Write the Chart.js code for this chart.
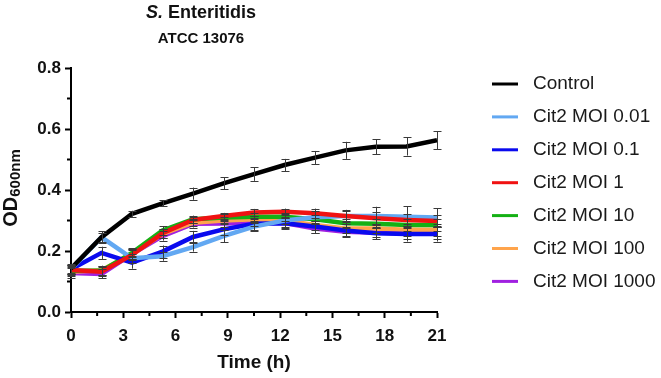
<!DOCTYPE html>
<html>
<head>
<meta charset="utf-8">
<script src="https://cdn.jsdelivr.net/npm/chart.js@4.4.1/dist/chart.umd.min.js"></script>
<style>
    html, body { margin: 0; padding: 0; background: #fff; }
    #wrap { position: relative; width: 661px; height: 378px; }
    #chart { position: absolute; left: 0; top: 0; }
    .title { position: absolute; left: 101px; width: 200px; text-align: center; font-family: 'Liberation Sans', Arial, sans-serif; font-weight: bold; color: #111; line-height: 1; }
    #t1 { top: 3px; font-size: 18px; }
    #t2 { top: 30px; font-size: 15px; }
</style>
</head>
<body>
<div id="wrap">
    <canvas id="chart" width="661" height="378"></canvas>
    <div class="title" id="t1"><i>S.</i> Enteritidis</div>
    <div class="title" id="t2">ATCC 13076</div>
</div>
<script>
const times = [0, 1.75, 3.5, 5.25, 7, 8.75, 10.5, 12.25, 14, 15.75, 17.5, 19.25, 21];

const seriesLabels = ['Control', 'Cit2 MOI 0.01', 'Cit2 MOI 0.1', 'Cit2 MOI 1', 'Cit2 MOI 10', 'Cit2 MOI 100', 'Cit2 MOI 1000'];
const seriesColors = ['#000000', '#62a8f2', '#0a0aee', '#f01212', '#14b014', '#ffa44c', '#a020e0'];

const control = [0.143, 0.245, 0.322, 0.356, 0.388, 0.422, 0.452, 0.482, 0.506, 0.530, 0.542, 0.543, 0.563];
const moi001 = [0.140, 0.245, 0.176, 0.183, 0.213, 0.249, 0.280, 0.300, 0.311, 0.315, 0.315, 0.312, 0.310];
const moi01 = [0.140, 0.194, 0.162, 0.198, 0.246, 0.271, 0.289, 0.291, 0.280, 0.267, 0.258, 0.256, 0.256];
const moi1 = [0.138, 0.132, 0.187, 0.258, 0.302, 0.315, 0.326, 0.329, 0.324, 0.315, 0.307, 0.302, 0.298];
const moi10 = [0.135, 0.135, 0.194, 0.267, 0.304, 0.310, 0.312, 0.312, 0.304, 0.291, 0.289, 0.285, 0.285];
const moi100 = [0.132, 0.137, 0.190, 0.256, 0.293, 0.300, 0.304, 0.300, 0.285, 0.274, 0.274, 0.270, 0.270];
const moi1000 = [0.128, 0.125, 0.190, 0.249, 0.289, 0.290, 0.293, 0.292, 0.274, 0.263, 0.260, 0.258, 0.258];

// standard deviations (error bars)
const controlErr = [0.015, 0.015, 0.010, 0.010, 0.020, 0.020, 0.022, 0.020, 0.022, 0.028, 0.025, 0.030, 0.030];
const moi001Err = [0.015, 0.020, 0.015, 0.015, 0.015, 0.020, 0.015, 0.020, 0.020, 0.020, 0.030, 0.035, 0.030];
const moi01Err = [0.015, 0.020, 0.020, 0.020, 0.020, 0.020, 0.020, 0.018, 0.020, 0.020, 0.020, 0.025, 0.025];
const moi1Err = [0.015, 0.015, 0.015, 0.015, 0.010, 0.010, 0.012, 0.010, 0.015, 0.015, 0.020, 0.020, 0.020];
const moi10Err = [0.015, 0.015, 0.015, 0.015, 0.012, 0.012, 0.012, 0.012, 0.015, 0.015, 0.015, 0.020, 0.020];
const moi100Err = [0.015, 0.015, 0.015, 0.015, 0.012, 0.012, 0.012, 0.012, 0.015, 0.015, 0.015, 0.020, 0.020];
const moi1000Err = [0.015, 0.015, 0.015, 0.015, 0.012, 0.012, 0.012, 0.015, 0.015, 0.015, 0.015, 0.020, 0.020];

const xTicks = [0, 3, 6, 9, 12, 15, 18, 21];
const yTicks = [0, 0.2, 0.4, 0.6, 0.8];

const seriesValues = [control, moi001, moi01, moi1, moi10, moi100, moi1000];
const seriesErrors = [controlErr, moi001Err, moi01Err, moi1Err, moi10Err, moi100Err, moi1000Err];

const FONT = "'Liberation Sans', Arial, sans-serif";

const datasets = seriesLabels.map((label, i) => ({
    label,
    data: times.map((t, j) => ({ x: t, y: seriesValues[i][j] })),
    errors: seriesErrors[i],
    borderColor: seriesColors[i],
    backgroundColor: seriesColors[i],
    borderWidth: 4.5,
    pointRadius: 0,
    tension: 0,
    order: i === 0 ? 0 : (i === 3 ? 1 : 2),
}));

const errorBars = {
    id: 'errorBars',
    afterDatasetsDraw(chart) {
        const { ctx, scales: { y } } = chart;
        ctx.save();
        ctx.strokeStyle = '#3a3a3a';
        ctx.lineWidth = 1;
        chart.data.datasets.forEach((ds, i) => {
            const meta = chart.getDatasetMeta(i);
            meta.data.forEach((pt, j) => {
                const v = ds.data[j].y;
                const e = ds.errors[j];
                const top = y.getPixelForValue(v + e);
                const bot = y.getPixelForValue(v - e);
                const x = Math.round(pt.x) + 0.5;
                ctx.beginPath();
                ctx.moveTo(x, top);
                ctx.lineTo(x, bot);
                ctx.moveTo(x - 4, Math.round(top) + 0.5);
                ctx.lineTo(x + 4, Math.round(top) + 0.5);
                ctx.moveTo(x - 4, Math.round(bot) + 0.5);
                ctx.lineTo(x + 4, Math.round(bot) + 0.5);
                ctx.stroke();
            });
        });
        ctx.restore();
    },
};

const extras = {
    id: 'extras',
    afterDraw(chart) {
        const { ctx, scales: { x, y }, chartArea } = chart;
        ctx.save();
        // minor ticks
        ctx.strokeStyle = '#000';
        ctx.lineWidth = 2;
        ctx.beginPath();
        for (let v = 1.5; v < 21; v += 3) {
            const px = x.getPixelForValue(v);
            ctx.moveTo(px, chartArea.bottom);
            ctx.lineTo(px, chartArea.bottom + 4);
        }
        for (let v = 0.1; v < 0.8; v += 0.2) {
            const py = y.getPixelForValue(v);
            ctx.moveTo(chartArea.left, py);
            ctx.lineTo(chartArea.left - 4, py);
        }
        ctx.stroke();

        // y-axis title with subscript
        ctx.translate(17, (chartArea.top + chartArea.bottom) / 2 - 2);
        ctx.rotate(-Math.PI / 2);
        ctx.fillStyle = '#111';
        ctx.textBaseline = 'alphabetic';
        ctx.font = 'bold 20px ' + FONT;
        const w1 = ctx.measureText('OD').width;
        ctx.font = 'bold 15px ' + FONT;
        const w2 = ctx.measureText('600nm').width;
        const start = -(w1 + w2) / 2;
        ctx.font = 'bold 20px ' + FONT;
        ctx.fillText('OD', start, 0);
        ctx.font = 'bold 15px ' + FONT;
        ctx.fillText('600nm', start + w1, 3);
        ctx.restore();

        // legend
        ctx.save();
        chart.data.datasets.forEach((ds, i) => {
            const cy = 84 + i * 32.9;
            ctx.strokeStyle = ds.borderColor;
            ctx.lineWidth = 3;
            ctx.beginPath();
            ctx.moveTo(492, cy);
            ctx.lineTo(518, cy);
            ctx.stroke();
            ctx.fillStyle = '#1a1a1a';
            ctx.font = '19px ' + FONT;
            ctx.textBaseline = 'middle';
            ctx.fillText(ds.label, 533, cy);
        });
        ctx.restore();
    },
};

new Chart(document.getElementById('chart'), {
    type: 'line',
    data: { datasets },
    options: {
        responsive: false,
        animation: false,
        events: [],
        layout: { padding: { left: 0, top: 68, right: 224, bottom: 0 } },
        plugins: { legend: { display: false }, tooltip: { enabled: false } },
        scales: {
            x: {
                type: 'linear',
                min: 0,
                max: 21,
                afterFit(scale) { scale.height = 66; },
                afterBuildTicks(scale) { scale.ticks = xTicks.map(v => ({ value: v })); },
                ticks: {
                    color: '#111',
                    padding: 8,
                    font: { family: FONT, size: 17, weight: 'bold' },
                    callback: v => String(v),
                },
                grid: { drawOnChartArea: false, tickLength: 6, tickWidth: 2, tickColor: '#000' },
                border: { color: '#000', width: 2 },
                title: {
                    display: true,
                    text: 'Time (h)',
                    color: '#111',
                    font: { family: FONT, size: 19, weight: 'bold' },
                    padding: { top: 2 },
                },
            },
            y: {
                min: 0,
                max: 0.8,
                afterFit(scale) { scale.width = 71; },
                afterBuildTicks(scale) { scale.ticks = yTicks.map(v => ({ value: v })); },
                ticks: {
                    color: '#111',
                    padding: 4,
                    font: { family: FONT, size: 17, weight: 'bold' },
                    callback: v => v.toFixed(1),
                },
                grid: { drawOnChartArea: false, tickLength: 6, tickWidth: 2, tickColor: '#000' },
                border: { color: '#000', width: 2 },
            },
        },
    },
    plugins: [errorBars, extras],
});
</script>
</body>
</html>
